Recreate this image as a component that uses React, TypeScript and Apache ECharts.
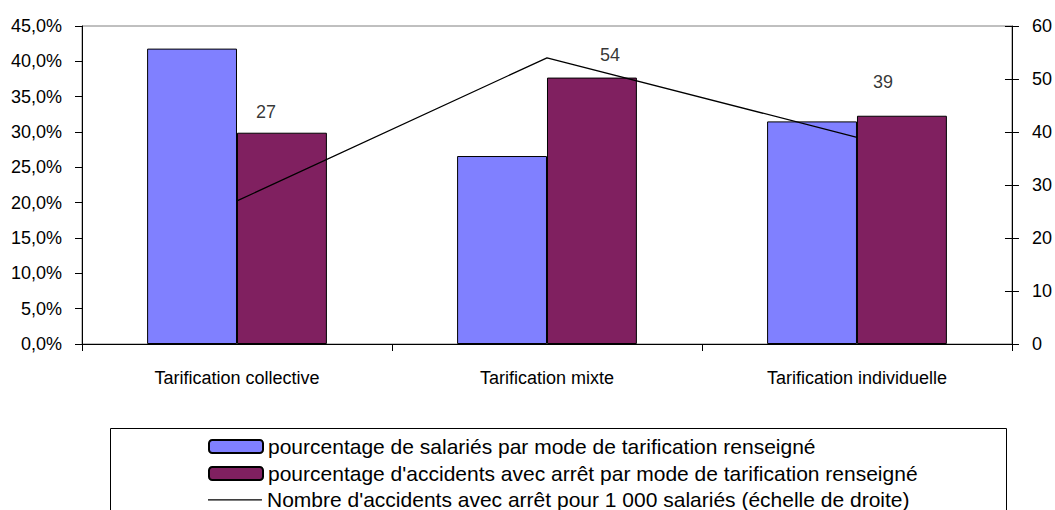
import React, { useEffect, useRef } from "react";
import * as echarts from "echarts";

const categories = ["Tarification collective", "Tarification mixte", "Tarification individuelle"];
const salariesPct = [41.8, 26.6, 31.5];
const accidentsPct = [29.9, 37.7, 32.3];
const accidentsPer1000 = [27, 54, 39];
const labelOffsets = [[29, -89], [63, -3], [26, -55]];

const nameSalaries = "pourcentage de salariés par mode de tarification renseigné";
const nameAccidents = "pourcentage d'accidents avec arrêt par mode de tarification renseigné";
const nameRate = "Nombre d'accidents avec arrêt pour 1 000 salariés (échelle de droite)";

const FONT = "'Liberation Sans', Arial, sans-serif";

const lineIcon = "path://M0,0h0.01v0.01h-0.01z M0,6.2h54v1.3h-54z M0,13h0.01v0.01h-0.01z";

export default function App() {
  const ref = useRef<HTMLDivElement>(null);
  useEffect(() => {
    if (!ref.current) return;
    const chart = echarts.init(ref.current, null, { renderer: "svg" });
    const axisText = { color: "#000", fontSize: 18, fontFamily: FONT };
    const legendBase = {
      orient: "horizontal",
      left: 208,
      padding: 0,
      itemWidth: 54,
      itemHeight: 13,
      itemGap: 0,
      selectedMode: false,
      textStyle: { fontSize: 21, lineHeight: 20, color: "#000", fontFamily: FONT },
    };
    chart.setOption({
      animation: false,
      backgroundColor: "#fff",
      textStyle: { fontFamily: FONT, color: "#000" },
      grid: {
        left: 82,
        right: 43,
        top: 26,
        bottom: 166,
        show: true,
        borderColor: "#808080",
        borderWidth: 1,
      },
      legend: [
        { ...legendBase, top: 436, data: [nameSalaries] },
        { ...legendBase, top: 463, data: [nameAccidents] },
        { ...legendBase, top: 489, data: [{ name: nameRate, icon: lineIcon }] },
      ],
      xAxis: {
        type: "category",
        data: categories,
        boundaryGap: true,
        axisLine: { show: true, lineStyle: { color: "#000", width: 1 } },
        axisTick: { show: true, length: 7, interval: 0, lineStyle: { color: "#000" } },
        axisLabel: { ...axisText, margin: 25, interval: 0 },
        splitLine: { show: false },
      },
      yAxis: [
        {
          type: "value",
          position: "left",
          min: 0,
          max: 45,
          interval: 5,
          axisLine: { show: true, lineStyle: { color: "#000", width: 1 } },
          axisTick: { show: true, length: 7, lineStyle: { color: "#000" } },
          axisLabel: {
            ...axisText,
            margin: 20,
            formatter: (v: number) => v.toFixed(1).replace(".", ",") + "%",
          },
          splitLine: { show: false },
        },
        {
          type: "value",
          position: "right",
          min: 0,
          max: 60,
          interval: 10,
          axisLine: { show: true, lineStyle: { color: "#000", width: 1 } },
          axisTick: { show: true, length: 7, lineStyle: { color: "#000" } },
          axisLabel: { ...axisText, margin: 20 },
          splitLine: { show: false },
        },
        {
          type: "value",
          position: "right",
          min: 0,
          max: 60,
          interval: 10,
          axisLine: { show: false },
          axisTick: { show: true, inside: true, length: 7, lineStyle: { color: "#000" } },
          axisLabel: { show: false },
          splitLine: { show: false },
        },
      ],
      series: [
        {
          name: nameSalaries,
          type: "bar",
          yAxisIndex: 0,
          data: salariesPct,
          barGap: "0%",
          barCategoryGap: "42%",
          itemStyle: { color: "#8080FF", borderColor: "#000", borderWidth: 1 },
        },
        {
          name: nameAccidents,
          type: "bar",
          yAxisIndex: 0,
          data: accidentsPct,
          barGap: "0%",
          barCategoryGap: "42%",
          itemStyle: { color: "#802060", borderColor: "#000", borderWidth: 1 },
        },
        {
          name: nameRate,
          type: "line",
          yAxisIndex: 1,
          data: accidentsPer1000,
          symbol: "none",
          z: 5,
          lineStyle: { color: "#000", width: 1.3 },
          itemStyle: { color: "#000" },
        },
        {
          name: "labels",
          type: "scatter",
          yAxisIndex: 1,
          z: 6,
          symbolSize: 1,
          itemStyle: { color: "rgba(0,0,0,0)" },
          data: accidentsPer1000.map((v, i) => ({
            value: v,
            label: {
              show: true,
              position: "inside",
              offset: labelOffsets[i],
              formatter: String(v),
              color: "#000",
              fontSize: 18,
              fontFamily: FONT,
            },
          })),
        },
      ],
      graphic: [
        {
          type: "rect",
          shape: { x: 110.5, y: 428.5, width: 896, height: 120 },
          style: { fill: "none", stroke: "#000", lineWidth: 1 },
          z: 0,
        },
      ],
    });
    return () => chart.dispose();
  }, []);
  return (
    <div
      ref={ref}
      style={{ position: "absolute", left: 0, top: 0, width: 1055, height: 510, background: "#fff" }}
    />
  );
}
